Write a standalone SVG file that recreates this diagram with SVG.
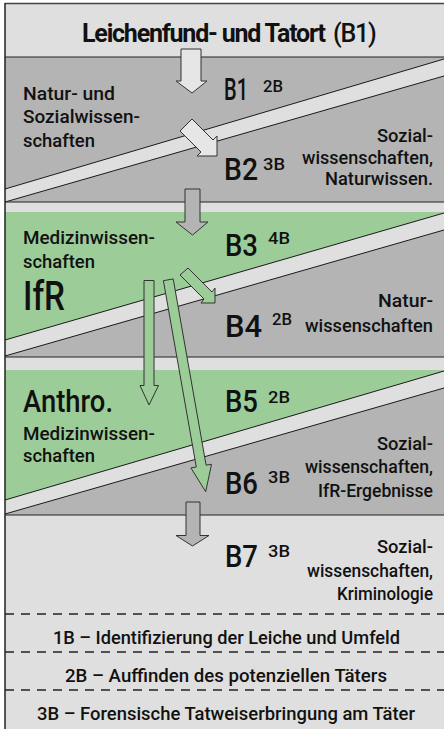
<svg xmlns="http://www.w3.org/2000/svg" width="444" height="729" viewBox="0 0 444 729">
  <style>
    text { font-family: Roboto, "Liberation Sans", sans-serif; fill: #111; font-weight: 500; }
    .t { font-size: 18.5px; }
    .big { font-size: 32px; }
    .sup { font-size: 16px; }
    .title { font-size: 25px; letter-spacing: -1.2px; }
    .bold { font-weight: 700; }
    .r { text-anchor: end; }
    .c { text-anchor: middle; }
    .light { fill: #dfdfdf; }
    .grey { fill: #b4b4b4; }
    .green { fill: #9ccd99; }
    .edge { stroke: #1a1a1a; stroke-width: 1; fill: none; }
    .sep { stroke: #222; stroke-width: 1.2; fill: none; }
    .dash { stroke: #222; stroke-width: 1.5; stroke-dasharray: 9 7; fill: none; }
    .arrow { stroke: #333; stroke-width: 1; stroke-linejoin: miter; }
  </style>

  <!-- base panel -->
  <rect x="5" y="3.5" width="445" height="730" class="light"/>

  <!-- band 1: B1 / B2 -->
  <g id="band-b1-b2">
    <rect x="5" y="57" width="445" height="145" class="grey"/>
    <polygon points="5,189 444,59 444,76 5,202" class="light"/>
    <line x1="5" y1="189" x2="444" y2="59" class="edge"/>
    <line x1="5" y1="202" x2="444" y2="76" class="edge"/>
  </g>

  <!-- band 2: B3 / B4 -->
  <g id="band-b3-b4">
    <rect x="5" y="212" width="445" height="145" class="grey"/>
    <polygon points="5,212 444,212 444,213 5,340" class="green"/>
    <polygon points="5,340 444,213 444,230 5,356" class="light"/>
    <line x1="5" y1="340" x2="444" y2="213" class="edge"/>
    <line x1="5" y1="356" x2="444" y2="230" class="edge"/>
  </g>

  <!-- band 3: B5 / B6 -->
  <g id="band-b5-b6">
    <rect x="5" y="370" width="445" height="145" class="grey"/>
    <polygon points="5,370 444,370 444,371 5,500" class="green"/>
    <polygon points="5,500 444,371 444,388 5,514" class="light"/>
    <line x1="5" y1="500" x2="444" y2="371" class="edge"/>
    <line x1="5" y1="514" x2="444" y2="388" class="edge"/>
  </g>

  <!-- frame and separators -->
  <g id="frame">
    <line x1="5" y1="3.5" x2="444" y2="3.5" stroke="#444" stroke-width="1.5"/>
    <line x1="5" y1="3" x2="5" y2="729" stroke="#222" stroke-width="1.5"/>
    <line x1="5" y1="57" x2="444" y2="57" class="sep"/>
    <line x1="5" y1="202" x2="444" y2="202" class="sep"/>
    <line x1="5" y1="357" x2="444" y2="357" class="sep"/>
    <line x1="5" y1="515" x2="444" y2="515" class="sep"/>
    <line x1="5" y1="614" x2="444" y2="614" class="dash"/>
    <line x1="5" y1="652" x2="444" y2="652" class="dash"/>
    <line x1="5" y1="690" x2="444" y2="690" class="dash"/>
  </g>

  <!-- connectors -->
  <g id="connectors">
    <polygon class="arrow" fill="#e6e6e6" points="181,49 201,49 201,81 207,81 192,93 176,81 181,81"/>
    <polygon class="arrow" fill="#e6e6e6" points="180,131 192,119 213,140 217,136 217,156 197,156 201,152"/>
    <polygon class="arrow" fill="#b4b4b4" points="185,189 200,189 200,222 208,222 192.5,235 176,222 185,222"/>
    <polygon class="arrow" fill="#9ccd99" points="180,275 188,268 212,292 215,288 215,303 201,303 204,299"/>
    <polygon class="arrow" fill="#9ccd99" points="144,280.5 154,280.5 154,385.5 158.5,385.5 149,405 140,385.5 144,385.5"/>
    <polygon class="arrow" fill="#9ccd99" points="163.4,280.7 173.2,278.9 206.1,465.2 211.5,464.3 205.7,491.7 190.9,467.9 196.3,467"/>
    <polygon class="arrow" fill="#b4b4b4" points="186,502 200,502 200,535.5 209,535.5 192.5,546 176,535.5 186,535.5"/>
  </g>

  <!-- title -->
  <g id="title">
    <text x="82" y="42" class="title bold">Leichenfund- und Tatort</text>
    <text x="333" y="42" class="title">(B1)</text>
  </g>

  <!-- B1 -->
  <g id="node-b1">
    <text x="23" y="99.5" class="t" textLength="92" lengthAdjust="spacingAndGlyphs">Natur- und</text>
    <text x="23" y="123" class="t" textLength="117" lengthAdjust="spacingAndGlyphs">Sozialwissen-</text>
    <text x="23" y="146.5" class="t" textLength="72" lengthAdjust="spacingAndGlyphs">schaften</text>
    <text x="224" y="100" class="big" textLength="24" lengthAdjust="spacingAndGlyphs">B1</text>
    <text x="263" y="92" class="sup" textLength="20" lengthAdjust="spacingAndGlyphs">2B</text>
  </g>

  <!-- B2 -->
  <g id="node-b2">
    <text x="224" y="180" class="big" textLength="34" lengthAdjust="spacingAndGlyphs">B2</text>
    <text x="263" y="170" class="sup" textLength="22" lengthAdjust="spacingAndGlyphs">3B</text>
    <text x="433" y="142" class="t r" textLength="56" lengthAdjust="spacingAndGlyphs">Sozial-</text>
    <text x="433" y="163.5" class="t r" textLength="131" lengthAdjust="spacingAndGlyphs">wissenschaften,</text>
    <text x="433" y="185" class="t r" textLength="108" lengthAdjust="spacingAndGlyphs">Naturwissen.</text>
  </g>

  <!-- B3 -->
  <g id="node-b3">
    <text x="23" y="243.5" class="t" textLength="132" lengthAdjust="spacingAndGlyphs">Medizinwissen-</text>
    <text x="23" y="267.5" class="t" textLength="72" lengthAdjust="spacingAndGlyphs">schaften</text>
    <text x="23" y="310" font-size="40" textLength="42" lengthAdjust="spacingAndGlyphs">IfR</text>
    <text x="225" y="255.5" class="big" textLength="33" lengthAdjust="spacingAndGlyphs">B3</text>
    <text x="268" y="244" class="sup" textLength="22" lengthAdjust="spacingAndGlyphs">4B</text>
  </g>

  <!-- B4 -->
  <g id="node-b4">
    <text x="225" y="336.5" class="big" textLength="37" lengthAdjust="spacingAndGlyphs">B4</text>
    <text x="272" y="325" class="sup" textLength="20" lengthAdjust="spacingAndGlyphs">2B</text>
    <text x="433" y="306.5" class="t r" textLength="55" lengthAdjust="spacingAndGlyphs">Natur-</text>
    <text x="433" y="331.5" class="t r" textLength="128" lengthAdjust="spacingAndGlyphs">wissenschaften</text>
  </g>

  <!-- B5 -->
  <g id="node-b5">
    <text x="23" y="411.5" font-size="32" textLength="90" lengthAdjust="spacingAndGlyphs">Anthro.</text>
    <text x="23" y="440" class="t" textLength="132" lengthAdjust="spacingAndGlyphs">Medizinwissen-</text>
    <text x="23" y="462" class="t" textLength="72" lengthAdjust="spacingAndGlyphs">schaften</text>
    <text x="225" y="411.5" class="big" textLength="33" lengthAdjust="spacingAndGlyphs">B5</text>
    <text x="268" y="403" class="sup" textLength="22" lengthAdjust="spacingAndGlyphs">2B</text>
  </g>

  <!-- B6 -->
  <g id="node-b6">
    <text x="225" y="493.5" class="big" textLength="33" lengthAdjust="spacingAndGlyphs">B6</text>
    <text x="268" y="483" class="sup" textLength="22" lengthAdjust="spacingAndGlyphs">3B</text>
    <text x="433" y="450" class="t r" textLength="56" lengthAdjust="spacingAndGlyphs">Sozial-</text>
    <text x="433" y="473" class="t r" textLength="128" lengthAdjust="spacingAndGlyphs">wissenschaften,</text>
    <text x="433" y="496.5" class="t r" textLength="115" lengthAdjust="spacingAndGlyphs">IfR-Ergebnisse</text>
  </g>

  <!-- B7 -->
  <g id="node-b7">
    <text x="225" y="567" class="big" textLength="33" lengthAdjust="spacingAndGlyphs">B7</text>
    <text x="268" y="557" class="sup" textLength="22" lengthAdjust="spacingAndGlyphs">3B</text>
    <text x="433" y="552.5" class="t r" textLength="56" lengthAdjust="spacingAndGlyphs">Sozial-</text>
    <text x="433" y="576.5" class="t r" textLength="126" lengthAdjust="spacingAndGlyphs">wissenschaften,</text>
    <text x="433" y="599.5" class="t r" textLength="96" lengthAdjust="spacingAndGlyphs">Kriminologie</text>
  </g>

  <!-- legend -->
  <g id="legend">
    <text x="226.5" y="643.5" class="t c" textLength="347" lengthAdjust="spacingAndGlyphs">1B – Identifizierung der Leiche und Umfeld</text>
    <text x="226" y="682" class="t c" textLength="322" lengthAdjust="spacingAndGlyphs">2B – Auffinden des potenziellen Täters</text>
    <text x="226" y="720" class="t c" textLength="378" lengthAdjust="spacingAndGlyphs">3B – Forensische Tatweiserbringung am Täter</text>
  </g>
</svg>
